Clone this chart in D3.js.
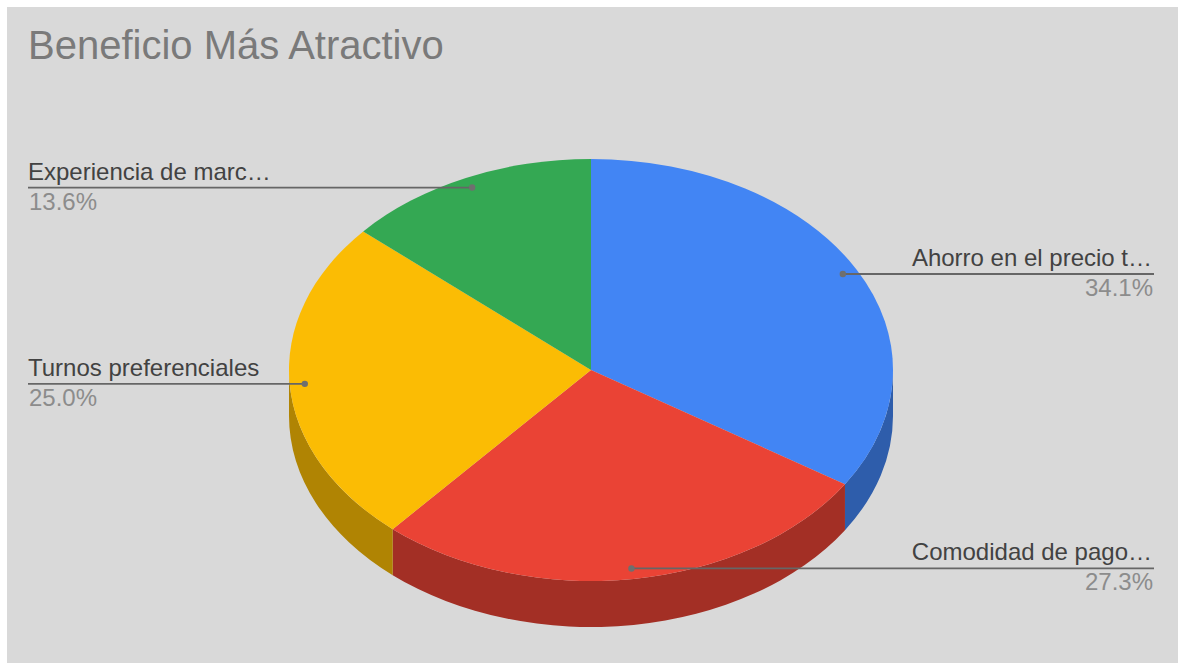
<!DOCTYPE html>
<html>
<head>
<meta charset="utf-8">
<script src="https://cdn.jsdelivr.net/npm/d3@7"></script>
<style>
  html, body { margin: 0; padding: 0; background: #fff; }
  svg { display: block; }
  text { font-family: "Liberation Sans", Arial, sans-serif; }
</style>
</head>
<body>
<svg id="chart" width="1178" height="663"></svg>
<script>
const title = "Beneficio Más Atractivo";
const categories = ["Ahorro en el precio t…", "Comodidad de pago…", "Turnos preferenciales", "Experiencia de marc…"];
const shares = [34.1, 27.3, 25.0, 13.6];
const topColors = ["#4285f4", "#ea4335", "#fbbc04", "#34a853"];
const wallColors = ["#2e5dab", "#a32f25", "#b08403", "#247539"];

const width = 1178, height = 663;
const cx = 591, cy = 370, rx = 302, ry = 211, depth = 46;
const tilt = ry / rx;
const leaderAt = 0.95;
const leftEdge = 28, rightEdge = 1154;

const svg = d3.select("#chart");

svg.append("rect")
  .attr("x", 7).attr("y", 7)
  .attr("width", width - 7).attr("height", height - 7)
  .attr("fill", "#d9d9d9");

svg.append("text")
  .attr("x", 28).attr("y", 59)
  .attr("font-size", 40)
  .attr("fill", "#7a7a7a")
  .text(title);

const slices = d3.pie().sort(null).value(d => d)(shares);

// Pie angles run clockwise from 12 o'clock; the disc is squashed vertically.
const pie = svg.append("g")
  .attr("transform", `translate(${cx},${cy}) scale(1,${tilt})`);

const drop = depth / tilt;
const toCanvas = a => a - Math.PI / 2;

// Side wall: only the front half of the rim (90° to 270°) can be seen.
function wallPath(s) {
  const a0 = Math.max(s.startAngle, Math.PI / 2);
  const a1 = Math.min(s.endAngle, Math.PI * 1.5);
  if (a1 <= a0) return null;
  const p = d3.path();
  p.arc(0, 0, rx, toCanvas(a0), toCanvas(a1), false);
  p.arc(0, drop, rx, toCanvas(a1), toCanvas(a0), true);
  p.closePath();
  return p.toString();
}

pie.selectAll("path.wall")
  .data(slices)
  .join("path")
  .attr("class", "wall")
  .attr("d", wallPath)
  .attr("fill", (d, i) => wallColors[i]);

const topArc = d3.arc().innerRadius(0).outerRadius(rx);

pie.selectAll("path.top")
  .data(slices)
  .join("path")
  .attr("class", "top")
  .attr("d", topArc)
  .attr("fill", (d, i) => topColors[i]);

// Leader lines end in a dot placed along each slice's mid angle.
const labels = slices.map((s, i) => {
  const mid = (s.startAngle + s.endAngle) / 2;
  const x = cx + Math.sin(mid) * rx * leaderAt;
  const y = cy - Math.cos(mid) * ry * leaderAt;
  const right = mid < Math.PI;
  return { x, y, right, name: categories[i], value: s.value };
});

const label = svg.append("g").selectAll("g")
  .data(labels)
  .join("g");

label.append("line")
  .attr("x1", d => d.x)
  .attr("y1", d => d.y)
  .attr("x2", d => d.right ? rightEdge : leftEdge)
  .attr("y2", d => d.y)
  .attr("stroke", "#666666")
  .attr("stroke-width", 1.8);

label.append("circle")
  .attr("cx", d => d.x)
  .attr("cy", d => d.y)
  .attr("r", 3.2)
  .attr("fill", "#6f6f6f");

label.append("text")
  .attr("x", d => d.right ? rightEdge - 2 : leftEdge)
  .attr("y", d => d.y - 8)
  .attr("text-anchor", d => d.right ? "end" : "start")
  .attr("font-size", 24)
  .attr("fill", "#424242")
  .text(d => d.name);

label.append("text")
  .attr("x", d => d.right ? rightEdge - 1 : leftEdge + 1)
  .attr("y", d => d.y + 22)
  .attr("text-anchor", d => d.right ? "end" : "start")
  .attr("font-size", 24)
  .attr("fill", "#8c8c8c")
  .text(d => d.value.toFixed(1) + "%");
</script>
</body>
</html>
